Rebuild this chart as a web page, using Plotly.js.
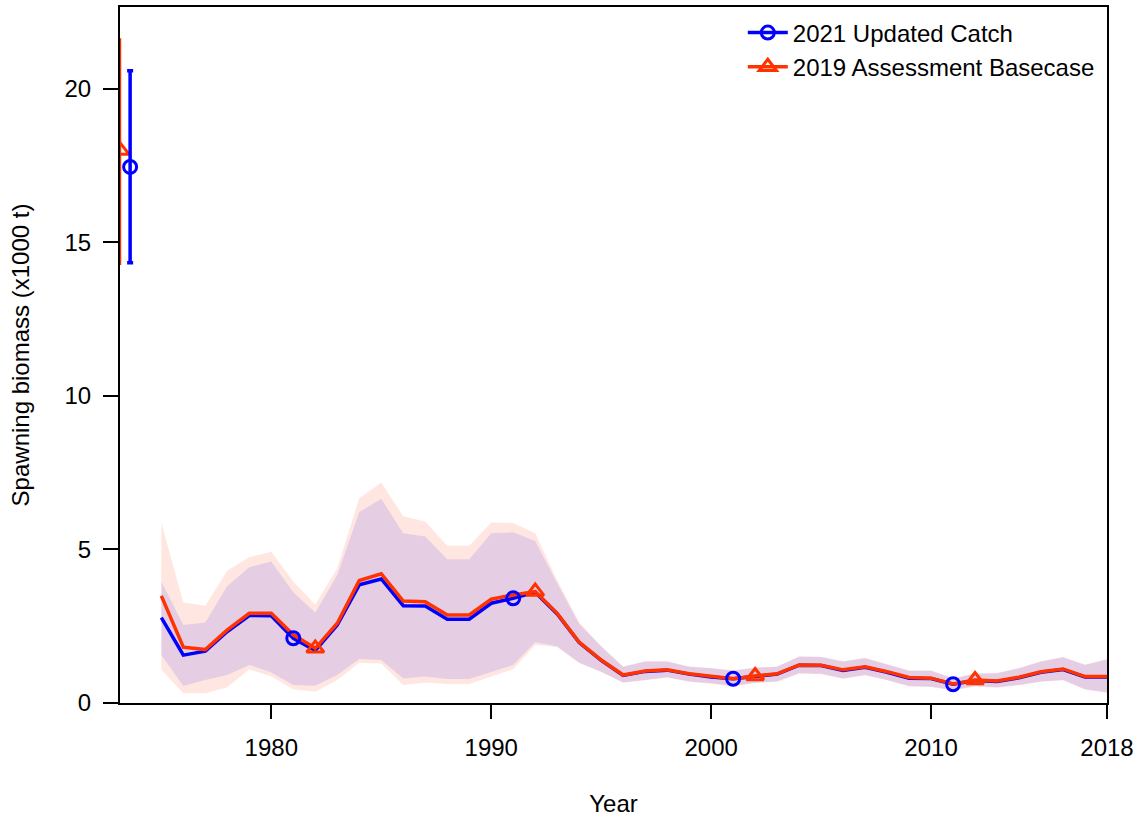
<!DOCTYPE html>
<html>
<head>
<meta charset="utf-8">
<script src="https://cdn.plot.ly/plotly-3.0.1.min.js"></script>
<style>html,body{margin:0;padding:0;background:#fff;}#chart{width:1141px;height:819px;}</style>
</head>
<body>
<div id="chart"></div>
<script>
const years = [1975,1976,1977,1978,1979,1980,1981,1982,1983,1984,1985,1986,1987,1988,1989,1990,1991,1992,1993,1994,1995,1996,1997,1998,1999,2000,2001,2002,2003,2004,2005,2006,2007,2008,2009,2010,2011,2012,2013,2014,2015,2016,2017,2018];

const ssb2021 = [2.78,1.56,1.69,2.33,2.85,2.84,2.11,1.71,2.54,3.85,4.04,3.17,3.16,2.73,2.73,3.25,3.41,3.61,2.90,1.97,1.39,0.90,1.03,1.07,0.94,0.85,0.79,0.87,0.94,1.23,1.22,1.06,1.16,1.00,0.81,0.80,0.61,0.73,0.70,0.82,1.00,1.09,0.85,0.85];
const upper2021 = [3.96,2.54,2.62,3.81,4.42,4.61,3.61,2.95,4.17,6.22,6.65,5.53,5.42,4.68,4.68,5.53,5.56,5.28,3.90,2.58,1.84,1.18,1.35,1.35,1.18,1.13,1.05,1.15,1.18,1.51,1.50,1.35,1.46,1.26,1.05,1.05,0.80,0.95,0.97,1.13,1.35,1.49,1.24,1.42];
const lower2021 = [1.56,0.55,0.75,0.91,1.24,0.99,0.59,0.56,0.91,1.43,1.40,0.80,0.86,0.78,0.78,1.02,1.24,1.98,1.84,1.31,1.02,0.67,0.75,0.84,0.70,0.64,0.55,0.66,0.70,0.97,0.95,0.80,0.91,0.75,0.55,0.53,0.42,0.55,0.51,0.59,0.70,0.75,0.45,0.34];

const ssb2019 = [3.49,1.82,1.74,2.38,2.92,2.92,2.22,1.78,2.60,3.99,4.21,3.32,3.30,2.87,2.87,3.38,3.52,3.63,2.92,1.98,1.40,0.91,1.04,1.08,0.95,0.86,0.79,0.88,0.95,1.24,1.23,1.08,1.18,1.02,0.83,0.81,0.62,0.75,0.72,0.84,1.02,1.11,0.86,0.86];
const upper2019 = [5.86,3.27,3.17,4.31,4.75,4.93,3.96,3.20,4.39,6.67,7.18,6.08,5.91,5.12,5.12,5.88,5.86,5.53,4.00,2.62,1.86,1.19,1.36,1.36,1.19,1.14,1.06,1.16,1.19,1.52,1.51,1.36,1.47,1.27,1.06,1.06,0.81,0.96,0.98,1.14,1.36,1.50,1.25,1.43];
const lower2019 = [1.08,0.32,0.32,0.51,1.10,0.86,0.45,0.37,0.75,1.31,1.29,0.59,0.67,0.62,0.62,0.86,1.10,1.89,1.82,1.30,1.01,0.66,0.74,0.83,0.69,0.63,0.54,0.65,0.69,0.96,0.94,0.79,0.90,0.74,0.54,0.52,0.41,0.54,0.50,0.58,0.69,0.74,0.44,0.33];

// Virgin (unfished) spawning biomass with intervals
const virginYear2021 = [1973.58];
const virgin2021 = [17.46];
const virginLo2021 = [14.34];
const virginHi2021 = [20.59];
const virginYear2019 = [1973.13];
const virgin2019 = [18.0];
const virginLo2019 = [14.3];
const virginHi2019 = [21.62];

// marker years
const markYears2021 = [1981,1991,2001,2011];
const markYears2019 = [1982,1992,2002,2012];

const names = ["2021 Updated Catch", "2019 Assessment Basecase"];
const xTicks = [1980,1990,2000,2010,2018];
const yTicks = [0,5,10,15,20];

const BLUE = "#0000FF";
const RED = "rgb(255,50,0)";

function band(up, lo, color){
  return {x: years.concat(years.slice().reverse()), y: up.concat(lo.slice().reverse()),
    type:"scatter", mode:"lines", fill:"toself", fillcolor:color, line:{width:0}, hoverinfo:"skip", showlegend:false};
}
function pick(arrY, sel){
  return {x: sel, y: sel.map(yr => arrY[years.indexOf(yr)])};
}
const m21 = pick(ssb2021, markYears2021);
const m19 = pick(ssb2019, markYears2019);

const circ = {symbol:"circle-open", size:13, color:BLUE, line:{width:3, color:BLUE}};
const tri = {symbol:"triangle-up-open", size:15, color:RED, line:{width:3, color:RED}};

const traces = [
  band(upper2019, lower2019, "rgba(255,60,20,0.13)"),
  band(upper2021, lower2021, "rgba(0,0,255,0.10)"),
  {x: years, y: ssb2021, type:"scatter", mode:"lines", line:{color:BLUE, width:3.5}, showlegend:false},
  {x: years, y: ssb2019, type:"scatter", mode:"lines", line:{color:RED, width:3.5}, showlegend:false},
  {x: m21.x, y: m21.y, type:"scatter", mode:"markers", marker:circ, showlegend:false},
  {x: m19.x, y: m19.y, type:"scatter", mode:"markers", marker:tri, showlegend:false},
  {x: virginYear2019, y: virgin2019, type:"scatter", mode:"markers", marker:tri, showlegend:false,
    error_y:{type:"data", symmetric:false, array:[virginHi2019[0]-virgin2019[0]], arrayminus:[virgin2019[0]-virginLo2019[0]], color:RED, thickness:2, width:1}},
  {x: virginYear2021, y: virgin2021, type:"scatter", mode:"markers", marker:circ, showlegend:false,
    error_y:{type:"data", symmetric:false, array:[virginHi2021[0]-virgin2021[0]], arrayminus:[virgin2021[0]-virginLo2021[0]], color:BLUE, thickness:3.5, width:3}},
  {x:[null], y:[null], type:"scatter", mode:"lines+markers", name:names[0], line:{color:BLUE, width:3.5}, marker:circ},
  {x:[null], y:[null], type:"scatter", mode:"lines+markers", name:names[1], line:{color:RED, width:3.5}, marker:tri}
];

const FONT = "Arial, 'Liberation Sans', sans-serif";
const layout = {
  width:1141, height:819,
  margin:{l:120, r:34, t:7, b:116},
  paper_bgcolor:"#fff", plot_bgcolor:"#fff",
  font:{family:FONT, size:24, color:"#000"},
  showlegend:true,
  legend:{x:0.631, y:0.995, xanchor:"left", yanchor:"top", bgcolor:"rgba(0,0,0,0)", font:{size:24, family:FONT}, traceorder:"normal", tracegroupgap:0, itemwidth:40},
  xaxis:{range:[1973.12, 2018], tickvals:xTicks, ticktext:xTicks.map(String), ticks:"outside", ticklen:14, tickwidth:2, tickcolor:"#000",
    showline:true, linewidth:2, linecolor:"#000", mirror:true, showgrid:false, zeroline:false,
    ticklabelstandoff:8, tickfont:{size:24},
    title:{text:"Year", font:{size:24}, standoff:35}},
  yaxis:{range:[0, 22.67], tickvals:yTicks, ticktext:yTicks.map(String), ticks:"outside", ticklen:15, tickwidth:2, tickcolor:"#000",
    showline:true, linewidth:2, linecolor:"#000", mirror:true, showgrid:false, zeroline:false,
    ticklabelstandoff:7, tickfont:{size:24},
    title:{text:"Spawning biomass (x1000 t)", font:{size:24}, standoff:28}}
};

Plotly.newPlot("chart", traces, layout, {displayModeBar:false, staticPlot:true});
</script>
</body>
</html>
